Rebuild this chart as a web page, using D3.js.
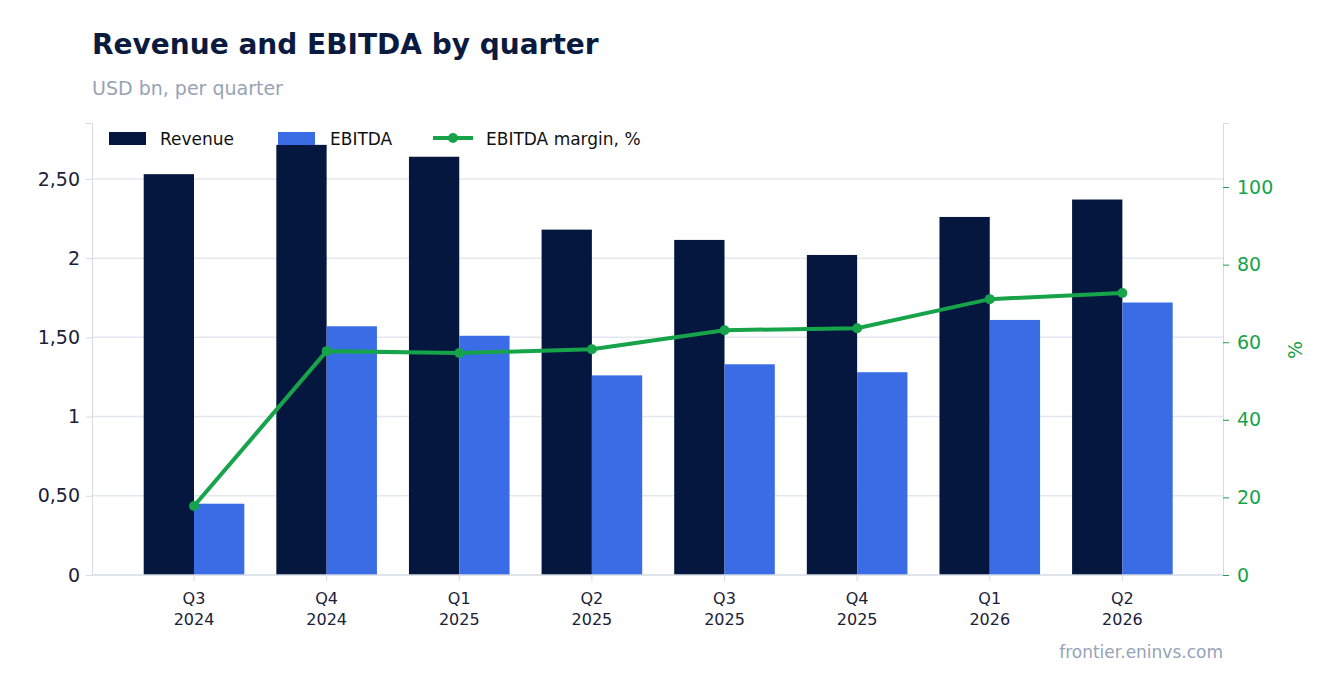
<!DOCTYPE html>
<html><head><meta charset="utf-8">
<script src="https://cdn.jsdelivr.net/npm/d3@7"></script>
<style>body{margin:0;background:#fff;font-family:"DejaVu Sans",sans-serif}</style>
</head><body><svg id="c" width="1336" height="693"></svg>
<script>
const categories=["Q3|2024","Q4|2024","Q1|2025","Q2|2025","Q3|2025","Q4|2025","Q1|2026","Q2|2026"];
const revenue=[2.53,2.715,2.64,2.18,2.115,2.02,2.26,2.37];
const ebitda=[0.45,1.57,1.51,1.26,1.33,1.28,1.61,1.72];
const margin=[17.8,57.7,57.2,58.2,63.1,63.6,71.1,72.7];
const leftTicks=[0,0.5,1,1.5,2,2.5];
const rightTicks=[0,20,40,60,80,100];
const svg=d3.select("#c");
const L=92,R=1223,T=123,B=575;
const x=d3.scaleBand().domain(categories).range([127.7,1188.7]);
const y=d3.scaleLinear().domain([0,2.853]).range([B,T]);
const y2=d3.scaleLinear().domain([0,116.5]).range([B,T]);
const fmt=v=>Number.isInteger(v)?String(v):v.toFixed(2).replace(".",",");
// grid
svg.append("g").selectAll("line").data(leftTicks.slice(1)).join("line")
 .attr("x1",L).attr("x2",R).attr("y1",d=>y(d)).attr("y2",d=>y(d)).attr("stroke","#e3e7ee").attr("stroke-width",1.5);
// left axis
const la=svg.append("g").attr("transform",`translate(${L},0)`).call(d3.axisLeft(y).tickValues(leftTicks).tickFormat(fmt).tickSize(6).tickPadding(6));
la.selectAll("text").attr("font-size",19).attr("fill","#1a2238").attr("font-family","DejaVu Sans");
la.selectAll("line,path").attr("stroke","#d5dae3");
const ra=svg.append("g").attr("transform",`translate(${R},0)`).call(d3.axisRight(y2).tickValues(rightTicks).tickSize(6).tickPadding(8));
ra.selectAll("text").attr("font-size",19).attr("fill","#16a34a").attr("font-family","DejaVu Sans");
ra.selectAll("line").attr("stroke","#16a34a");ra.select("path").attr("stroke","#d5dae3");
svg.append("text").attr("transform","translate(1302,350) rotate(-90)").attr("text-anchor","middle").attr("font-size",19).attr("fill","#16a34a").text("%");
// bars
const bw=50.3;
svg.append("g").selectAll("rect").data(revenue).join("rect")
 .attr("x",(d,i)=>x(categories[i])+x.bandwidth()/2-bw).attr("width",bw).attr("y",d=>y(d)).attr("height",d=>B-y(d)).attr("fill","#05173f");
svg.append("g").selectAll("rect").data(ebitda).join("rect")
 .attr("x",(d,i)=>x(categories[i])+x.bandwidth()/2).attr("width",bw).attr("y",d=>y(d)).attr("height",d=>B-y(d)).attr("fill","#3a6ce6");
// x axis
svg.append("line").attr("x1",L).attr("x2",R).attr("y1",B).attr("y2",B).attr("stroke","#d5dae3").attr("stroke-width",1.5);
const xt=svg.append("g").selectAll("g").data(categories).join("g").attr("transform",d=>`translate(${x(d)+x.bandwidth()/2},0)`);
xt.append("line").attr("y1",B).attr("y2",B+6).attr("stroke","#d5dae3");
xt.append("text").attr("text-anchor","middle").attr("font-size",16).attr("fill","#1a2238").selectAll("tspan").data(d=>d.split("|")).join("tspan")
 .attr("x",0).attr("y",(d,i)=>604+i*21).text(d=>d);
// line
const cx=(d,i)=>x(categories[i])+x.bandwidth()/2;
svg.append("path").datum(margin).attr("fill","none").attr("stroke","#16a34a").attr("stroke-width",4)
 .attr("d",d3.line().x(cx).y(d=>y2(d)));
svg.append("g").selectAll("circle").data(margin).join("circle").attr("cx",cx).attr("cy",d=>y2(d)).attr("r",5).attr("fill","#16a34a");
// legend
const lg=svg.append("g").attr("font-size",17).attr("fill","#111");
lg.append("rect").attr("x",109).attr("y",132).attr("width",37).attr("height",13).attr("fill","#05173f");
lg.append("text").attr("x",160).attr("y",145).text("Revenue");
lg.append("rect").attr("x",278).attr("y",132).attr("width",37).attr("height",13).attr("fill","#3a6ce6");
lg.append("text").attr("x",330).attr("y",145).text("EBITDA");
lg.append("line").attr("x1",433).attr("x2",473).attr("y1",138).attr("y2",138).attr("stroke","#16a34a").attr("stroke-width",4);
lg.append("circle").attr("cx",453).attr("cy",138).attr("r",5).attr("fill","#16a34a");
lg.append("text").attr("x",486).attr("y",145).text("EBITDA margin, %");
// titles
svg.append("text").attr("x",92).attr("y",54).attr("font-size",28).attr("font-weight","bold").attr("fill","#0b1a3f").text("Revenue and EBITDA by quarter");
svg.append("text").attr("x",92).attr("y",95).attr("font-size",19).attr("fill","#97a3b6").text("USD bn, per quarter");
svg.append("text").attr("x",1223).attr("y",658).attr("text-anchor","end").attr("font-size",17).attr("fill","#97a3b6").text("frontier.eninvs.com");
</script></body></html>
